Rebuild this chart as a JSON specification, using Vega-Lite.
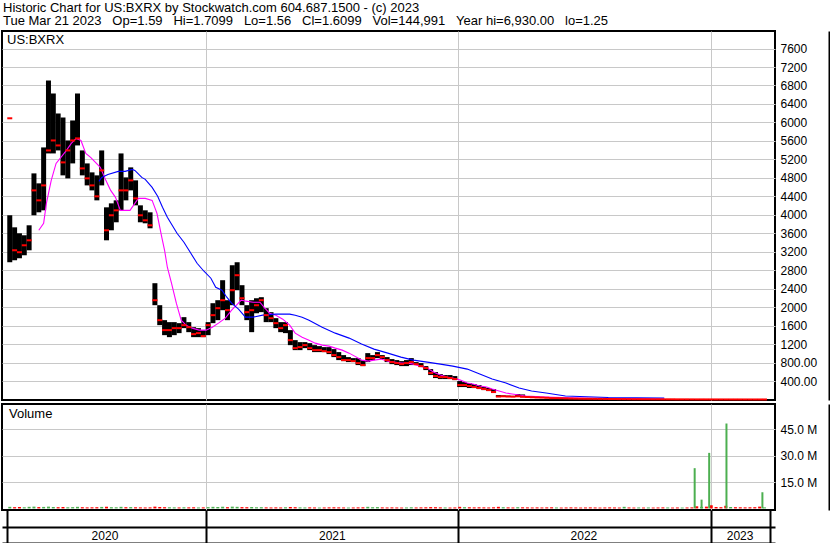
{
  "$schema": "https://vega.github.io/schema/vega-lite/v6.json",
  "background": "white",
  "padding": {"left": 1, "top": 1, "right": 1, "bottom": 0},
  "title": {
    "text": ["Historic Chart for US:BXRX by Stockwatch.com 604.687.1500 - (c) 2023", "Tue Mar 21 2023\u00a0\u00a0\u00a0Op=1.59\u00a0\u00a0\u00a0Hi=1.7099\u00a0\u00a0\u00a0Lo=1.56\u00a0\u00a0\u00a0Cl=1.6099\u00a0\u00a0\u00a0Vol=144,991\u00a0\u00a0\u00a0Year hi=6,930.00\u00a0\u00a0\u00a0lo=1.25"],
    "anchor": "start", "frame": "bounds", "fontSize": 13, "fontWeight": "normal", "font": "Liberation Sans", "color": "#000", "lineHeight": 13.5, "offset": 2, "dx": 2
  },
  "config": {
    "view": {"stroke": "#000", "strokeWidth": 2},
    "font": "Liberation Sans",
    "axis": {"labelFont": "Liberation Sans", "labelFontSize": 12, "labelColor": "#000", "gridColor": "#c8c8c8", "gridWidth": 1, "labelFlush": false},
    "title": {"font": "Liberation Sans", "fontWeight": "normal", "color": "#000", "fontSize": 13}
  },
  "resolve": {"scale": {"color": "independent"}},
  "spacing": 0,
  "datasets": {
    "px": [
      {"d":"2020-03-23","h":3990,"l":2973,"c":6090,"v":900000,"u":1},
      {"d":"2020-03-30","h":3729,"l":3016,"c":3232,"v":700000,"u":0},
      {"d":"2020-04-06","h":3600,"l":3059,"c":3190,"v":800000,"u":0},
      {"d":"2020-04-13","h":3557,"l":3124,"c":3340,"v":650000,"u":1},
      {"d":"2020-04-20","h":3773,"l":3232,"c":3448,"v":900000,"u":1},
      {"d":"2020-04-27","h":4897,"l":3990,"c":4529,"v":1000000,"u":1},
      {"d":"2020-05-04","h":4681,"l":4054,"c":4313,"v":750000,"u":0},
      {"d":"2020-05-11","h":5459,"l":4097,"c":4637,"v":850000,"u":1},
      {"d":"2020-05-18","h":6908,"l":5329,"c":5394,"v":1000000,"u":1},
      {"d":"2020-05-25","h":6627,"l":5329,"c":5610,"v":800000,"u":1},
      {"d":"2020-06-01","h":6194,"l":5394,"c":5502,"v":700000,"u":0},
      {"d":"2020-06-08","h":6107,"l":4854,"c":5135,"v":800000,"u":0},
      {"d":"2020-06-15","h":5610,"l":4789,"c":5394,"v":650000,"u":1},
      {"d":"2020-06-22","h":6043,"l":5113,"c":5610,"v":750000,"u":1},
      {"d":"2020-06-29","h":6627,"l":5502,"c":5654,"v":900000,"u":1},
      {"d":"2020-07-06","h":5394,"l":4854,"c":5005,"v":700000,"u":0},
      {"d":"2020-07-13","h":5113,"l":4637,"c":4789,"v":600000,"u":0},
      {"d":"2020-07-20","h":4919,"l":4529,"c":4637,"v":650000,"u":0},
      {"d":"2020-07-27","h":4854,"l":4313,"c":4400,"v":700000,"u":0},
      {"d":"2020-08-03","h":5394,"l":4637,"c":4962,"v":850000,"u":1},
      {"d":"2020-08-10","h":4162,"l":3448,"c":3665,"v":950000,"u":0},
      {"d":"2020-08-17","h":4248,"l":3665,"c":3990,"v":700000,"u":1},
      {"d":"2020-08-24","h":4313,"l":3838,"c":4097,"v":650000,"u":1},
      {"d":"2020-08-31","h":5329,"l":4097,"c":4529,"v":900000,"u":1},
      {"d":"2020-09-07","h":4810,"l":4313,"c":4529,"v":700000,"u":0},
      {"d":"2020-09-14","h":5027,"l":4529,"c":4746,"v":750000,"u":1},
      {"d":"2020-09-21","h":4746,"l":4205,"c":4356,"v":650000,"u":0},
      {"d":"2020-09-28","h":4205,"l":3838,"c":3990,"v":600000,"u":0},
      {"d":"2020-10-05","h":4097,"l":3816,"c":3881,"v":550000,"u":0},
      {"d":"2020-10-12","h":4054,"l":3708,"c":3773,"v":600000,"u":0},
      {"d":"2020-10-19","h":2519,"l":2043,"c":2151,"v":1000000,"u":0},
      {"d":"2020-10-26","h":2043,"l":1611,"c":1719,"v":800000,"u":0},
      {"d":"2020-11-02","h":1719,"l":1394,"c":1503,"v":700000,"u":0},
      {"d":"2020-11-09","h":1676,"l":1351,"c":1503,"v":650000,"u":1},
      {"d":"2020-11-16","h":1676,"l":1394,"c":1546,"v":600000,"u":1},
      {"d":"2020-11-23","h":1654,"l":1438,"c":1546,"v":550000,"u":0},
      {"d":"2020-11-30","h":1784,"l":1546,"c":1611,"v":650000,"u":1},
      {"d":"2020-12-07","h":1676,"l":1459,"c":1567,"v":600000,"u":0},
      {"d":"2020-12-14","h":1567,"l":1351,"c":1416,"v":650000,"u":0},
      {"d":"2020-12-21","h":1546,"l":1351,"c":1438,"v":550000,"u":1},
      {"d":"2020-12-28","h":1503,"l":1351,"c":1373,"v":600000,"u":0},
      {"d":"2021-01-04","h":1676,"l":1394,"c":1611,"v":750000,"u":1},
      {"d":"2021-01-11","h":2086,"l":1654,"c":1827,"v":900000,"u":1},
      {"d":"2021-01-18","h":2151,"l":1719,"c":1978,"v":800000,"u":1},
      {"d":"2021-01-25","h":2584,"l":1935,"c":2151,"v":950000,"u":1},
      {"d":"2021-02-01","h":2151,"l":1719,"c":1935,"v":700000,"u":0},
      {"d":"2021-02-08","h":2908,"l":2043,"c":2367,"v":1000000,"u":1},
      {"d":"2021-02-15","h":2973,"l":2367,"c":2692,"v":900000,"u":1},
      {"d":"2021-02-22","h":2476,"l":2043,"c":2194,"v":750000,"u":0},
      {"d":"2021-03-01","h":2043,"l":1719,"c":1892,"v":700000,"u":0},
      {"d":"2021-03-08","h":2151,"l":1459,"c":1935,"v":800000,"u":1},
      {"d":"2021-03-15","h":2194,"l":1870,"c":2043,"v":650000,"u":1},
      {"d":"2021-03-22","h":2216,"l":1892,"c":2151,"v":700000,"u":1},
      {"d":"2021-03-29","h":1978,"l":1676,"c":1827,"v":600000,"u":0},
      {"d":"2021-04-05","h":1892,"l":1676,"c":1762,"v":550000,"u":0},
      {"d":"2021-04-12","h":1762,"l":1546,"c":1654,"v":600000,"u":0},
      {"d":"2021-04-19","h":1676,"l":1459,"c":1546,"v":550000,"u":0},
      {"d":"2021-04-26","h":1676,"l":1438,"c":1611,"v":650000,"u":1},
      {"d":"2021-05-03","h":1503,"l":1178,"c":1286,"v":800000,"u":0},
      {"d":"2021-05-10","h":1286,"l":1070,"c":1113,"v":700000,"u":0},
      {"d":"2021-05-17","h":1243,"l":1070,"c":1135,"v":600000,"u":1},
      {"d":"2021-05-24","h":1243,"l":1113,"c":1178,"v":550000,"u":1},
      {"d":"2021-05-31","h":1221,"l":1070,"c":1113,"v":600000,"u":0},
      {"d":"2021-06-07","h":1178,"l":1027,"c":1070,"v":550000,"u":0},
      {"d":"2021-06-14","h":1157,"l":1027,"c":1070,"v":500000,"u":1},
      {"d":"2021-06-21","h":1135,"l":1027,"c":1048,"v":550000,"u":0},
      {"d":"2021-06-28","h":1135,"l":984,"c":1027,"v":600000,"u":0},
      {"d":"2021-07-05","h":1092,"l":919,"c":962,"v":650000,"u":0},
      {"d":"2021-07-12","h":1027,"l":854,"c":919,"v":600000,"u":0},
      {"d":"2021-07-19","h":962,"l":832,"c":854,"v":550000,"u":0},
      {"d":"2021-07-26","h":919,"l":811,"c":854,"v":500000,"u":1},
      {"d":"2021-08-02","h":897,"l":811,"c":832,"v":550000,"u":0},
      {"d":"2021-08-09","h":897,"l":746,"c":789,"v":600000,"u":0},
      {"d":"2021-08-16","h":854,"l":724,"c":746,"v":650000,"u":0},
      {"d":"2021-08-23","h":1005,"l":811,"c":897,"v":900000,"u":1},
      {"d":"2021-08-30","h":962,"l":854,"c":897,"v":700000,"u":1},
      {"d":"2021-09-06","h":1027,"l":897,"c":962,"v":750000,"u":1},
      {"d":"2021-09-13","h":962,"l":876,"c":919,"v":600000,"u":0},
      {"d":"2021-09-20","h":919,"l":811,"c":854,"v":550000,"u":0},
      {"d":"2021-09-27","h":876,"l":767,"c":811,"v":600000,"u":0},
      {"d":"2021-10-04","h":854,"l":746,"c":789,"v":550000,"u":0},
      {"d":"2021-10-11","h":832,"l":724,"c":767,"v":500000,"u":0},
      {"d":"2021-10-18","h":854,"l":724,"c":789,"v":550000,"u":1},
      {"d":"2021-10-25","h":897,"l":746,"c":811,"v":650000,"u":1},
      {"d":"2021-11-01","h":811,"l":746,"c":767,"v":550000,"u":0},
      {"d":"2021-11-08","h":789,"l":703,"c":724,"v":600000,"u":0},
      {"d":"2021-11-15","h":724,"l":638,"c":681,"v":650000,"u":0},
      {"d":"2021-11-22","h":659,"l":530,"c":573,"v":750000,"u":0},
      {"d":"2021-11-29","h":595,"l":465,"c":508,"v":700000,"u":0},
      {"d":"2021-12-06","h":551,"l":443,"c":486,"v":600000,"u":0},
      {"d":"2021-12-13","h":530,"l":443,"c":486,"v":550000,"u":1},
      {"d":"2021-12-20","h":530,"l":443,"c":465,"v":500000,"u":0},
      {"d":"2021-12-27","h":508,"l":421,"c":443,"v":550000,"u":0},
      {"d":"2022-01-03","h":400,"l":270,"c":313,"v":900000,"u":0},
      {"d":"2022-01-10","h":378,"l":270,"c":313,"v":700000,"u":1},
      {"d":"2022-01-17","h":357,"l":249,"c":292,"v":650000,"u":0},
      {"d":"2022-01-24","h":335,"l":249,"c":270,"v":600000,"u":0},
      {"d":"2022-01-31","h":313,"l":227,"c":249,"v":650000,"u":0},
      {"d":"2022-02-07","h":270,"l":205,"c":227,"v":600000,"u":0},
      {"d":"2022-02-14","h":249,"l":184,"c":205,"v":550000,"u":0},
      {"d":"2022-02-21","h":227,"l":141,"c":162,"v":650000,"u":0},
      {"d":"2022-02-28","h":97,"l":54,"c":65,"v":900000,"u":0},
      {"d":"2022-03-07","h":90,"l":60,"c":70,"v":700000,"u":1},
      {"d":"2022-03-14","h":85,"l":55,"c":65,"v":600000,"u":0},
      {"d":"2022-03-21","h":80,"l":55,"c":62,"v":550000,"u":0},
      {"d":"2022-03-28","h":120,"l":55,"c":70,"v":700000,"u":1},
      {"d":"2022-04-04","h":110,"l":50,"c":60,"v":650000,"u":0},
      {"d":"2022-04-11","h":70,"l":45,"c":55,"v":600000,"u":0},
      {"d":"2022-04-18","h":65,"l":40,"c":50,"v":550000,"u":0},
      {"d":"2022-04-25","h":60,"l":38,"c":45,"v":600000,"u":0},
      {"d":"2022-05-02","h":55,"l":35,"c":42,"v":550000,"u":0},
      {"d":"2022-05-09","h":50,"l":30,"c":38,"v":600000,"u":0},
      {"d":"2022-05-16","h":42,"l":25,"c":30,"v":650000,"u":0},
      {"d":"2022-05-23","h":40,"l":24,"c":30,"v":550000,"u":1},
      {"d":"2022-05-30","h":38,"l":22,"c":28,"v":500000,"u":0},
      {"d":"2022-06-06","h":35,"l":20,"c":25,"v":550000,"u":0},
      {"d":"2022-06-13","h":30,"l":18,"c":22,"v":600000,"u":0},
      {"d":"2022-06-20","h":28,"l":15,"c":20,"v":550000,"u":0},
      {"d":"2022-06-27","h":25,"l":14,"c":18,"v":500000,"u":0},
      {"d":"2022-07-04","h":24,"l":13,"c":17,"v":550000,"u":0},
      {"d":"2022-07-11","h":22,"l":12,"c":16,"v":600000,"u":0},
      {"d":"2022-07-18","h":20,"l":11,"c":15,"v":550000,"u":0},
      {"d":"2022-07-25","h":20,"l":10,"c":14,"v":500000,"u":0},
      {"d":"2022-08-01","h":18,"l":10,"c":13,"v":550000,"u":0},
      {"d":"2022-08-08","h":17,"l":9,"c":12,"v":600000,"u":0},
      {"d":"2022-08-15","h":16,"l":8,"c":11,"v":550000,"u":0},
      {"d":"2022-08-22","h":15,"l":8,"c":10,"v":500000,"u":0},
      {"d":"2022-08-29","h":30,"l":8,"c":10,"v":900000,"u":1},
      {"d":"2022-09-05","h":13,"l":7,"c":9,"v":550000,"u":0},
      {"d":"2022-09-12","h":12,"l":6,"c":8,"v":500000,"u":0},
      {"d":"2022-09-19","h":11,"l":6,"c":8,"v":550000,"u":1},
      {"d":"2022-09-26","h":10,"l":5,"c":7,"v":500000,"u":0},
      {"d":"2022-10-03","h":10,"l":5,"c":7,"v":550000,"u":1},
      {"d":"2022-10-10","h":9,"l":5,"c":6,"v":500000,"u":0},
      {"d":"2022-10-17","h":9,"l":4,"c":6,"v":550000,"u":0},
      {"d":"2022-10-24","h":8,"l":4,"c":5,"v":600000,"u":0},
      {"d":"2022-10-31","h":8,"l":4,"c":5,"v":550000,"u":1},
      {"d":"2022-11-07","h":7,"l":4,"c":5,"v":500000,"u":0},
      {"d":"2022-11-14","h":7,"l":3,"c":4,"v":550000,"u":0},
      {"d":"2022-11-21","h":6,"l":3,"c":4,"v":500000,"u":1},
      {"d":"2022-11-28","h":6,"l":3,"c":4,"v":550000,"u":0},
      {"d":"2022-12-05","h":5,"l":2.5,"c":3.5,"v":600000,"u":0},
      {"d":"2022-12-12","h":5,"l":2.5,"c":3,"v":1200000,"u":0},
      {"d":"2022-12-19","h":5,"l":2.2,"c":3,"v":900000,"u":1},
      {"d":"2022-12-26","h":4.5,"l":2,"c":2.8,"v":1000000,"u":0},
      {"d":"2023-01-02","h":4.2,"l":2,"c":2.6,"v":1800000,"u":0},
      {"d":"2023-01-09","h":4,"l":2,"c":2.5,"v":800000,"u":0},
      {"d":"2023-01-16","h":3.8,"l":2,"c":2.4,"v":700000,"u":0},
      {"d":"2023-01-23","h":4.5,"l":1.8,"c":2.2,"v":1500000,"u":0},
      {"d":"2023-01-30","h":3.5,"l":1.8,"c":2.1,"v":800000,"u":1},
      {"d":"2023-02-06","h":3.2,"l":1.7,"c":2,"v":700000,"u":0},
      {"d":"2023-02-13","h":3,"l":1.6,"c":1.9,"v":650000,"u":0},
      {"d":"2023-02-20","h":2.8,"l":1.5,"c":1.8,"v":600000,"u":0},
      {"d":"2023-02-27","h":2.6,"l":1.4,"c":1.7,"v":650000,"u":0},
      {"d":"2023-03-06","h":2.4,"l":1.25,"c":1.6,"v":700000,"u":0},
      {"d":"2023-03-13","h":2.2,"l":1.3,"c":1.6,"v":1000000,"u":0},
      {"d":"2023-03-20","h":1.71,"l":1.56,"c":1.61,"v":600000,"u":1}
    ],
    "spk": [
      {"d":"2022-12-09","v":22900000,"u":1},
      {"d":"2022-12-19","v":5000000,"u":1},
      {"d":"2022-12-30","v":31600000,"u":1},
      {"d":"2023-01-24","v":48300000,"u":1},
      {"d":"2023-03-17","v":9200000,"u":1}
    ],
    "ma": [
      {"d":"2020-05-04","s":"m","v":3665},{"d":"2020-05-11","s":"m","v":3816},{"d":"2020-05-15","s":"m","v":4248},
      {"d":"2020-05-22","s":"m","v":4746},{"d":"2020-05-29","s":"m","v":5113},{"d":"2020-06-05","s":"m","v":5243},
      {"d":"2020-06-13","s":"m","v":5394},{"d":"2020-06-20","s":"m","v":5546},{"d":"2020-06-27","s":"m","v":5654},
      {"d":"2020-07-04","s":"m","v":5610},{"d":"2020-07-11","s":"m","v":5329},{"d":"2020-07-18","s":"m","v":5243},
      {"d":"2020-07-25","s":"m","v":5135},{"d":"2020-08-01","s":"m","v":5027},{"d":"2020-08-09","s":"m","v":4746},
      {"d":"2020-08-16","s":"m","v":4529},{"d":"2020-08-23","s":"m","v":4378},{"d":"2020-08-30","s":"m","v":4097},
      {"d":"2020-09-06","s":"m","v":4097},{"d":"2020-09-13","s":"m","v":4097},{"d":"2020-09-20","s":"m","v":4248},
      {"d":"2020-09-25","s":"m","v":4356},{"d":"2020-10-05","s":"m","v":4356},{"d":"2020-10-15","s":"m","v":4313},
      {"d":"2020-10-22","s":"m","v":4032},{"d":"2020-10-29","s":"m","v":3513},{"d":"2020-11-02","s":"m","v":3232},
      {"d":"2020-11-06","s":"m","v":2865},{"d":"2020-11-12","s":"m","v":2519},{"d":"2020-11-19","s":"m","v":2086},
      {"d":"2020-11-26","s":"m","v":1719},{"d":"2020-12-03","s":"m","v":1611},{"d":"2020-12-12","s":"m","v":1546},
      {"d":"2020-12-22","s":"m","v":1503},{"d":"2021-01-01","s":"m","v":1503},{"d":"2021-01-10","s":"m","v":1567},
      {"d":"2021-01-19","s":"m","v":1654},{"d":"2021-01-29","s":"m","v":1762},{"d":"2021-02-07","s":"m","v":1935},
      {"d":"2021-02-14","s":"m","v":2043},{"d":"2021-02-21","s":"m","v":2151},{"d":"2021-02-28","s":"m","v":2130},
      {"d":"2021-03-10","s":"m","v":2108},{"d":"2021-03-20","s":"m","v":2108},{"d":"2021-03-27","s":"m","v":1978},
      {"d":"2021-04-03","s":"m","v":1870},{"d":"2021-04-12","s":"m","v":1827},{"d":"2021-04-22","s":"m","v":1740},
      {"d":"2021-05-02","s":"m","v":1611},{"d":"2021-05-10","s":"m","v":1438},{"d":"2021-05-20","s":"m","v":1351},
      {"d":"2021-05-30","s":"m","v":1286},{"d":"2021-06-08","s":"m","v":1221},{"d":"2021-06-18","s":"m","v":1178},
      {"d":"2021-06-28","s":"m","v":1157},{"d":"2021-07-07","s":"m","v":1113},{"d":"2021-07-17","s":"m","v":1070},
      {"d":"2021-07-27","s":"m","v":1005},{"d":"2021-08-04","s":"m","v":940},{"d":"2021-08-14","s":"m","v":854},
      {"d":"2021-08-24","s":"m","v":832},{"d":"2021-09-01","s":"m","v":854},{"d":"2021-09-11","s":"m","v":876},
      {"d":"2021-09-21","s":"m","v":832},{"d":"2021-09-30","s":"m","v":811},{"d":"2021-10-10","s":"m","v":789},
      {"d":"2021-10-20","s":"m","v":789},{"d":"2021-10-28","s":"m","v":767},{"d":"2021-11-07","s":"m","v":724},
      {"d":"2021-11-17","s":"m","v":681},{"d":"2021-11-26","s":"m","v":595},{"d":"2021-12-06","s":"m","v":530},
      {"d":"2021-12-16","s":"m","v":486},{"d":"2021-12-24","s":"m","v":465},{"d":"2022-01-04","s":"m","v":421},
      {"d":"2022-01-14","s":"m","v":357},{"d":"2022-01-22","s":"m","v":335},{"d":"2022-02-01","s":"m","v":292},
      {"d":"2022-02-11","s":"m","v":270},{"d":"2022-02-19","s":"m","v":227},{"d":"2022-03-01","s":"m","v":184},
      {"d":"2022-03-11","s":"m","v":141},{"d":"2022-03-20","s":"m","v":119},{"d":"2022-03-30","s":"m","v":97},
      {"d":"2022-04-09","s":"m","v":76},{"d":"2022-05-08","s":"m","v":54},{"d":"2022-06-24","s":"m","v":32},
      {"d":"2022-08-20","s":"m","v":22},{"d":"2022-10-26","s":"m","v":11},
      {"d":"2020-07-30","s":"b","v":4724},{"d":"2020-08-03","s":"b","v":4810},{"d":"2020-08-12","s":"b","v":4875},
      {"d":"2020-08-27","s":"b","v":4940},{"d":"2020-09-06","s":"b","v":4940},{"d":"2020-09-16","s":"b","v":4983},
      {"d":"2020-09-20","s":"b","v":4962},{"d":"2020-09-30","s":"b","v":4810},{"d":"2020-10-05","s":"b","v":4767},
      {"d":"2020-10-15","s":"b","v":4594},{"d":"2020-10-23","s":"b","v":4400},{"d":"2020-10-30","s":"b","v":4162},
      {"d":"2020-11-06","s":"b","v":3946},{"d":"2020-11-13","s":"b","v":3773},{"d":"2020-11-20","s":"b","v":3600},
      {"d":"2020-11-30","s":"b","v":3405},{"d":"2020-12-10","s":"b","v":3167},{"d":"2020-12-19","s":"b","v":2951},
      {"d":"2020-12-29","s":"b","v":2778},{"d":"2021-01-08","s":"b","v":2627},{"d":"2021-01-15","s":"b","v":2432},
      {"d":"2021-01-24","s":"b","v":2367},{"d":"2021-01-31","s":"b","v":2216},{"d":"2021-02-07","s":"b","v":2086},
      {"d":"2021-02-17","s":"b","v":1957},{"d":"2021-02-27","s":"b","v":1784},{"d":"2021-03-10","s":"b","v":1784},
      {"d":"2021-03-24","s":"b","v":1827},{"d":"2021-04-12","s":"b","v":1849},{"d":"2021-05-02","s":"b","v":1849},
      {"d":"2021-05-10","s":"b","v":1827},{"d":"2021-05-20","s":"b","v":1784},{"d":"2021-05-30","s":"b","v":1719},
      {"d":"2021-06-18","s":"b","v":1567},{"d":"2021-07-07","s":"b","v":1438},{"d":"2021-07-27","s":"b","v":1330},
      {"d":"2021-08-14","s":"b","v":1200},{"d":"2021-09-01","s":"b","v":1092},{"d":"2021-09-21","s":"b","v":1005},
      {"d":"2021-10-10","s":"b","v":919},{"d":"2021-10-28","s":"b","v":854},{"d":"2021-11-17","s":"b","v":811},
      {"d":"2021-12-06","s":"b","v":767},{"d":"2021-12-24","s":"b","v":724},{"d":"2022-01-14","s":"b","v":659},
      {"d":"2022-02-01","s":"b","v":551},{"d":"2022-02-19","s":"b","v":443},{"d":"2022-03-11","s":"b","v":357},
      {"d":"2022-03-30","s":"b","v":249},{"d":"2022-04-17","s":"b","v":184},{"d":"2022-05-08","s":"b","v":141},
      {"d":"2022-06-05","s":"b","v":76},{"d":"2022-08-06","s":"b","v":43},{"d":"2022-10-26","s":"b","v":32}
    ]
  },
  "vconcat": [
    {
      "width": 773,
      "height": 369,
      "title": {"text": "US:BXRX", "anchor": "start", "offset": -16, "dx": 5, "fontSize": 13, "fontWeight": "normal", "color": "#000"},
      "layer": [
        {
          "data": {"name": "px"},
          "mark": {"type": "bar", "width": 5, "color": "#000"},
          "encoding": {
            "x": {"field": "d", "type": "temporal", "title": null,
                  "scale": {"domain": [{"year":2020,"month":3,"date":19},{"year":2023,"month":3,"date":28}]},
                  "axis": {"values": [{"year":2021,"month":1,"date":1},{"year":2022,"month":1,"date":1},{"year":2023,"month":1,"date":1}], "grid": true, "labels": false, "ticks": false, "domain": false}},
            "y": {"field": "l", "type": "quantitative", "title": null, "scale": {"domain": [-10, 7980]},
                  "axis": {"orient": "right", "values": [400,800,1200,1600,2000,2400,2800,3200,3600,4000,4400,4800,5200,5600,6000,6400,6800,7200,7600],
                           "labelExpr": "datum.value < 1000 ? format(datum.value, '.2f') : format(datum.value, 'd')",
                           "grid": true, "ticks": false, "domain": false, "labelPadding": 5}},
            "y2": {"field": "h"}
          }
        },
        {
          "data": {"name": "ma"},
          "mark": {"type": "line", "strokeWidth": 1.1},
          "encoding": {
            "x": {"field": "d", "type": "temporal", "title": null, "axis": null,
                  "scale": {"domain": [{"year":2020,"month":3,"date":19},{"year":2023,"month":3,"date":28}]}},
            "y": {"field": "v", "type": "quantitative", "title": null, "axis": null, "scale": {"domain": [-10, 7980]}},
            "color": {"field": "s", "type": "nominal", "scale": {"domain": ["m", "b"], "range": ["#ff00ff", "#0000ff"]}, "legend": null}
          }
        },
        {
          "data": {"name": "px"},
          "mark": {"type": "tick", "orient": "horizontal", "color": "#ff0000", "size": 5, "thickness": 2, "opacity": 1},
          "encoding": {
            "x": {"field": "d", "type": "temporal", "title": null, "axis": null,
                  "scale": {"domain": [{"year":2020,"month":3,"date":19},{"year":2023,"month":3,"date":28}]}},
            "y": {"field": "c", "type": "quantitative", "title": null, "axis": null, "scale": {"domain": [-10, 7980]}}
          }
        },
        {
          "data": {"name": "px"},
          "mark": {"type": "point", "opacity": 0, "size": 0},
          "encoding": {
            "x": {"field": "d", "type": "temporal", "title": null, "axis": null,
                  "scale": {"domain": [{"year":2020,"month":3,"date":19},{"year":2023,"month":3,"date":28}]}},
            "y": {"field": "h", "type": "quantitative", "title": null, "scale": {"domain": [-10, 7980]},
                  "axis": {"orient": "right", "offset": 54, "labels": false, "ticks": false, "grid": false, "domain": true, "domainColor": "#000", "domainWidth": 2}}
          }
        }
      ],
      "resolve": {"axis": {"x": "independent", "y": "independent"}}
    },
    {
      "width": 773,
      "height": 106,
      "title": {"text": "Volume", "anchor": "start", "offset": -17, "dx": 7, "fontSize": 13, "fontWeight": "normal", "color": "#000"},
      "layer": [
        {
          "data": {"name": "px"},
          "mark": {"type": "bar", "width": 3},
          "encoding": {
            "x": {"field": "d", "type": "temporal", "title": null,
                  "scale": {"domain": [{"year":2020,"month":3,"date":19},{"year":2023,"month":3,"date":28}]},
                  "axis": {"values": [{"year":2021,"month":1,"date":1},{"year":2022,"month":1,"date":1},{"year":2023,"month":1,"date":1}], "grid": true, "labels": false, "ticks": false, "domain": false}},
            "y": {"field": "v", "type": "quantitative", "title": null, "scale": {"domain": [-900000, 59400000]},
                  "axis": {"orient": "right", "values": [15000000, 30000000, 45000000], "labelExpr": "format(datum.value / 1000000, '.1f') + ' M'", "grid": true, "ticks": false, "domain": false, "labelPadding": 5}},
            "y2": {"datum": 0},
            "color": {"field": "u", "type": "nominal", "scale": {"domain": [0, 1], "range": ["#ff0000", "#4caf50"]}, "legend": null}
          }
        },
        {
          "data": {"name": "spk"},
          "mark": {"type": "bar", "width": 2},
          "encoding": {
            "x": {"field": "d", "type": "temporal", "title": null, "axis": null,
                  "scale": {"domain": [{"year":2020,"month":3,"date":19},{"year":2023,"month":3,"date":28}]}},
            "y": {"field": "v", "type": "quantitative", "title": null, "axis": null, "scale": {"domain": [-900000, 59400000]}},
            "y2": {"datum": 0},
            "color": {"field": "u", "type": "nominal", "scale": {"domain": [0, 1], "range": ["#ff0000", "#4caf50"]}, "legend": null}
          }
        },
        {
          "data": {"name": "spk"},
          "mark": {"type": "point", "opacity": 0, "size": 0},
          "encoding": {
            "x": {"field": "d", "type": "temporal", "title": null,
                  "scale": {"domain": [{"year":2020,"month":3,"date":19},{"year":2023,"month":3,"date":28}]},
                  "axis": {"orient": "bottom", "values": [{"year":2020,"month":3,"date":19},{"year":2021,"month":1,"date":1},{"year":2022,"month":1,"date":1},{"year":2023,"month":1,"date":1},{"year":2023,"month":3,"date":28}],
                           "grid": false, "labels": false, "ticks": true, "tickSize": 33, "tickColor": "#000", "tickWidth": 2, "domain": false}},
            "y": {"field": "v", "type": "quantitative", "title": null, "axis": null, "scale": {"domain": [-900000, 59400000]}}
          }
        },
        {
          "data": {"name": "spk"},
          "mark": {"type": "point", "opacity": 0, "size": 0},
          "encoding": {
            "x": {"field": "d", "type": "temporal", "title": null,
                  "scale": {"domain": [{"year":2020,"month":3,"date":19},{"year":2023,"month":3,"date":28}]},
                  "axis": {"orient": "bottom", "offset": 17, "values": [{"year":2020,"month":8,"date":7},{"year":2021,"month":7,"date":2},{"year":2022,"month":7,"date":1},{"year":2023,"month":2,"date":12}],
                           "labelExpr": "timeFormat(datum.value, '%Y')", "grid": false, "ticks": false, "domain": true, "domainColor": "#000", "domainWidth": 2, "labelPadding": 3, "labelBaseline": "top"}},
            "y": {"field": "v", "type": "quantitative", "title": null, "axis": null, "scale": {"domain": [-900000, 59400000]}}
          }
        },
        {
          "data": {"name": "spk"},
          "mark": {"type": "point", "opacity": 0, "size": 0},
          "encoding": {
            "x": {"field": "d", "type": "temporal", "title": null,
                  "scale": {"domain": [{"year":2020,"month":3,"date":19},{"year":2023,"month":3,"date":28}]},
                  "axis": {"orient": "bottom", "offset": 33, "labels": false, "grid": false, "ticks": false, "domain": true, "domainColor": "#000", "domainWidth": 2}},
            "y": {"field": "v", "type": "quantitative", "title": null, "scale": {"domain": [-900000, 59400000]},
                  "axis": {"orient": "right", "offset": 54, "labels": false, "ticks": false, "grid": false, "domain": true, "domainColor": "#000", "domainWidth": 2}}
          }
        }
      ],
      "resolve": {"axis": {"x": "independent", "y": "independent"}}
    }
  ]
}
